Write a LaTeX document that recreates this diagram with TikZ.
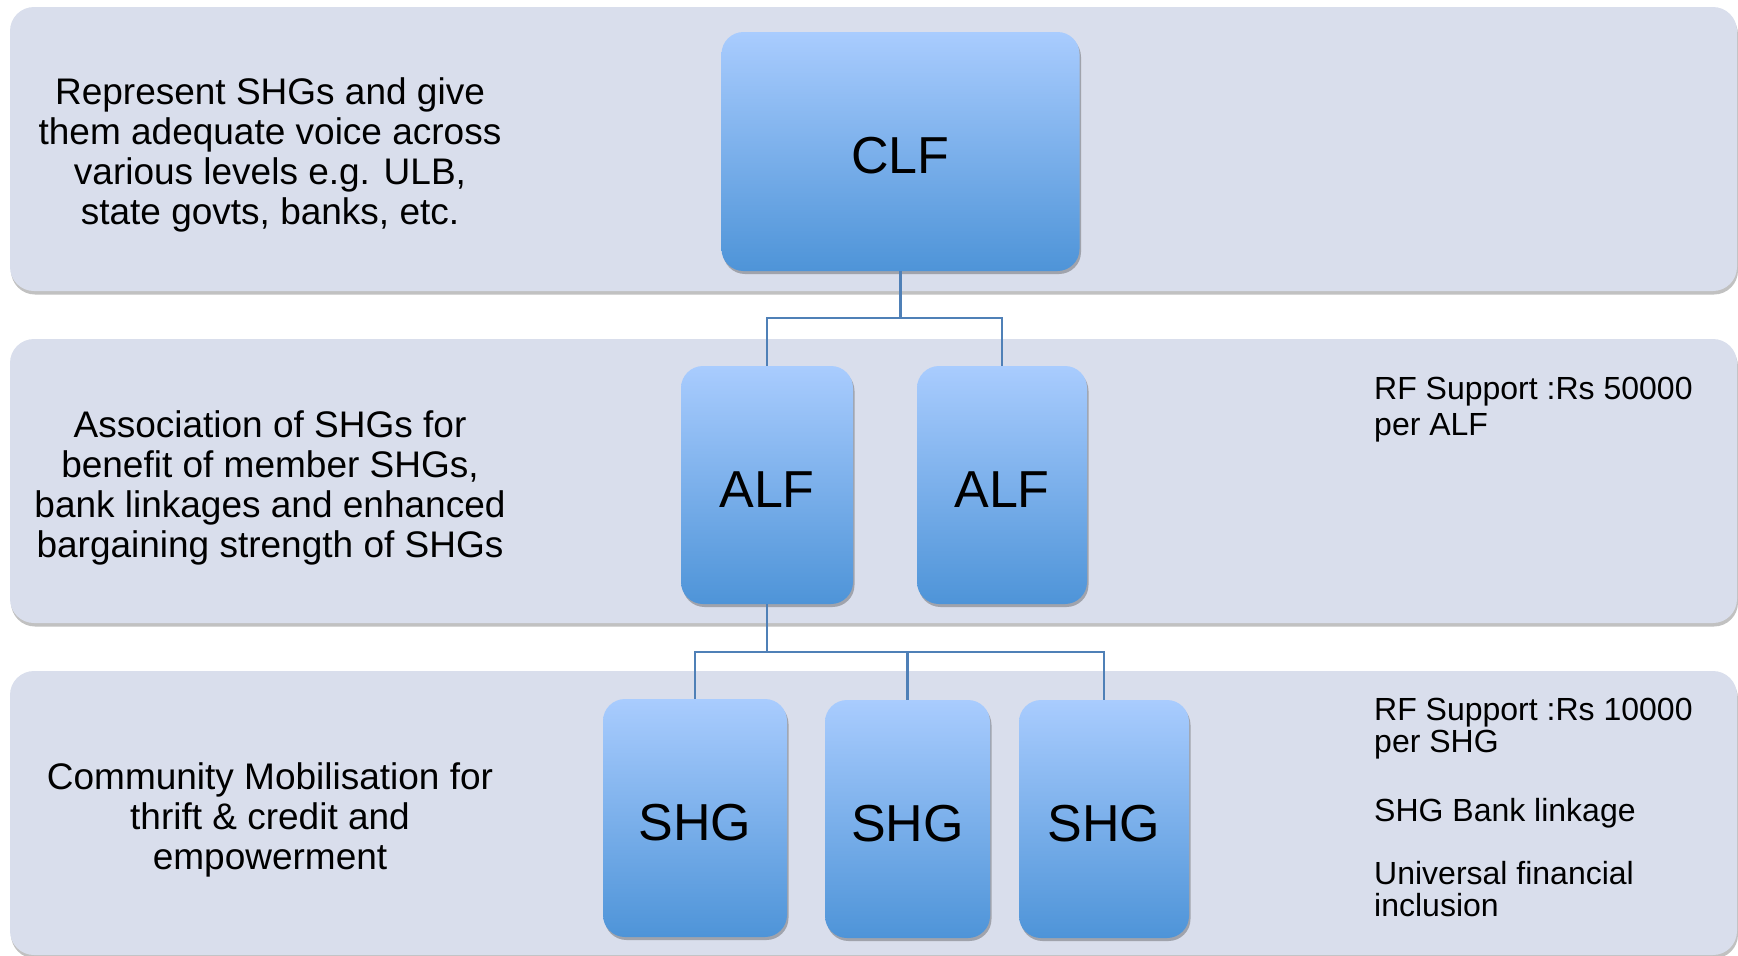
\documentclass[tikz,border=0pt]{standalone}
\usepackage{fontspec}
\setmainfont{Liberation Sans}
\usetikzlibrary{shadows}
\definecolor{bandfill}{RGB}{217,222,236}
\definecolor{boxtop}{RGB}{169,204,254}
\definecolor{boxbot}{RGB}{78,148,216}
\definecolor{linkcol}{RGB}{79,128,183}
\begin{document}
\begin{tikzpicture}[x=1pt,y=-1pt,
  band/.style={fill=bandfill, rounded corners=24pt, inner sep=0pt,
    minimum width=1727pt, minimum height=284pt,
    drop shadow={shadow xshift=1pt, shadow yshift=-3.5pt, opacity=0.35, fill=black!70}},
  unit/.style={rounded corners=22pt, inner sep=0pt, top color=boxtop, bottom color=boxbot,
    font=\fontsize{52}{60}\selectfont, text height=45pt,
    drop shadow={shadow xshift=1.5pt, shadow yshift=-3pt, opacity=0.4, fill=black!70}},
  lefttext/.style={align=center, inner sep=0pt, font=\fontsize{37}{40}\selectfont},
  righttext/.style={align=left, inner sep=0pt, anchor=north west},
  link/.style={draw=linkcol, line width=2.5pt}]
\useasboundingbox (0,0) rectangle (1738,956);
% bands
\node[band] (band1) at (873.5,149) {};
\node[band] (band2) at (873.5,481) {};
\node[band] (band3) at (873.5,813) {};
% units
\node[unit, minimum width=358pt, minimum height=239pt] (clf) at (900.5,151.5) {CLF};
\node[unit, minimum width=172pt, minimum height=238pt] (alf1) at (767,485) {ALF};
\node[unit, minimum width=170pt, minimum height=238pt] (alf2) at (1002,485) {ALF};
\node[unit, minimum width=184pt, minimum height=238pt] (shg1) at (695,818) {SHG};
\node[unit, minimum width=165pt, minimum height=238pt] (shg2) at (907.5,819) {SHG};
\node[unit, minimum width=170pt, minimum height=238pt] (shg3) at (1104,819) {SHG};
% connectors
\coordinate (j1) at (900.5,318);
\coordinate (j2) at (767,652);
\draw[link] (clf.south) -- (j1) -| (alf1.north);
\draw[link] (j1) -| (alf2.north);
\draw[link] (alf1.south) -- (j2) -| (shg1.north);
\draw[link] (j2) -| (shg3.north);
\draw[link] (shg2.north) -- (shg2.north |- j2);
% left texts
\node[lefttext] (t1) at (270,155) {Represent SHGs and give\\them adequate voice across\\various levels e.g. ULB,\\state govts, banks, etc.};
\node[lefttext] (t2) at (270,488) {Association of SHGs for\\benefit of member SHGs,\\bank linkages and enhanced\\bargaining strength of SHGs};
\node[lefttext] (t3) at (270,820) {Community Mobilisation for\\thrift \& credit and\\empowerment};
% right texts
\node[righttext, font=\fontsize{32}{36}\selectfont] (r1) at (1374,377) {RF Support :Rs 50000\\per ALF};
\node[righttext, font=\fontsize{32}{32}\selectfont] (r2) at (1374,698) {RF Support :Rs 10000\\per SHG};
\node[righttext, font=\fontsize{32}{32}\selectfont] (r3) at (1374,798) {SHG Bank linkage};
\node[righttext, font=\fontsize{32}{32}\selectfont] (r4) at (1374,861) {Universal financial\\inclusion};
\end{tikzpicture}
\end{document}
